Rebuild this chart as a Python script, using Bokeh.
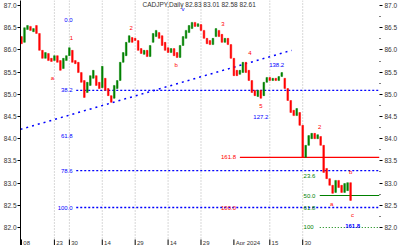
from bokeh.plotting import figure
from bokeh.models import LinearAxis, FixedTicker, Range1d, ColumnDataSource, NumeralTickFormatter
from bokeh.embed import file_html
from bokeh.resources import INLINE
from bokeh.core.properties import value

# ---------------- data ----------------
opens = [86.30, 86.17, 86.46, 86.53, 86.41, 86.55, 86.37, 85.99, 85.81, 85.92,
         85.81, 85.76, 85.87, 85.76, 85.58, 85.76, 85.87, 85.99, 85.76, 85.72,
         85.49, 85.31, 85.04, 85.20, 85.36, 85.42, 85.27, 85.15, 85.36, 85.13,
         84.97, 84.91, 85.13, 85.31, 85.72, 85.87, 86.17, 86.28, 86.26, 86.21,
         86.03, 85.90, 85.99, 85.85, 86.17, 86.30, 86.39, 86.32, 86.17, 86.05,
         85.94, 86.03, 85.94, 85.83, 86.10, 86.26, 86.39, 86.48, 86.62, 86.53,
         86.57, 86.44, 86.26, 86.21, 86.12, 86.30, 86.44, 86.35, 86.17, 86.26,
         86.12, 85.81, 85.54, 85.45, 85.49, 85.72, 85.54, 85.31, 85.09, 84.95,
         85.09, 84.97, 85.27, 85.38, 85.31, 85.36, 85.31, 85.40, 85.36, 85.13,
         84.86, 84.64, 84.52, 84.59, 84.30, 83.58, 83.85, 84.00, 84.12, 84.00,
         84.05, 83.85, 83.33, 83.10, 82.95, 82.79, 83.06, 82.95, 82.79, 82.83,
         83.01]
closes = [86.14, 86.50, 86.55, 86.44, 86.48, 86.37, 85.99, 85.81, 85.94, 85.76,
          85.74, 85.87, 85.72, 85.54, 85.81, 85.87, 86.05, 85.72, 85.69, 85.49,
          85.27, 84.93, 85.27, 85.42, 85.54, 85.20, 85.13, 85.63, 85.09, 84.97,
          84.82, 85.20, 85.31, 85.72, 85.94, 86.17, 86.32, 86.17, 86.21, 85.99,
          85.92, 85.99, 85.85, 86.10, 86.37, 86.44, 86.26, 86.10, 85.99, 85.94,
          86.03, 85.87, 85.83, 86.10, 86.30, 86.44, 86.55, 86.62, 86.53, 86.59,
          86.44, 86.26, 86.14, 86.12, 86.26, 86.48, 86.30, 86.17, 86.26, 86.12,
          85.81, 85.42, 85.42, 85.54, 85.72, 85.49, 85.31, 85.04, 84.97, 85.09,
          84.91, 85.27, 85.38, 85.31, 85.36, 85.31, 85.40, 85.49, 85.13, 84.86,
          84.59, 84.52, 84.68, 84.30, 83.58, 83.85, 84.07, 84.12, 84.00, 84.09,
          83.85, 83.24, 83.10, 82.95, 82.77, 83.06, 82.90, 82.79, 82.99, 83.01,
          82.61]

price_ticks = [82.0, 82.5, 83.0, 83.5, 84.0, 84.5, 85.0, 85.5, 86.0, 86.5, 87.0]
price_minor = [82.25, 82.75, 83.25, 83.75, 84.25, 84.75, 85.25, 85.75, 86.25, 86.75]

date_pos = [0, 11, 16, 27, 38, 49, 60, 71, 83, 94]
date_labels = ["08", "23", "30", "14", "29", "14", "29", "Apr 2024", "15", "30"]
grid_pos = [11, 16, 27, 38, 49, 60, 83, 94]

title_text = "CADJPY,Daily  82.83 83.01 82.58 82.61"

# Fibonacci retracement (blue)
fib_levels = [85.09, 83.28, 82.45]
fib_start = 18.3
fib_label_y = [86.68, 85.09, 84.07, 83.28, 82.45]
fib_label_text = ["0.0", "38.2", "61.8", "78.6", "100.0"]

# trend line (blue)
trend_x = [-0.33, 90.3]
trend_y = [84.21, 85.99]

# extension levels
red_level = 83.58
red_start = 73.0
red_label_y = [83.58, 82.45]
red_label_text = ["161.8", "100.0"]

green_solid = 82.72
green_dotted = 82.00
green_start = 99.7
green_label_y = [83.17, 82.72, 82.43, 82.00]
green_label_text = ["23.6", "50.0", "61.8", "100"]

blue_note_x = [85.3, 80.0, 54.0]
blue_note_y = [85.65, 84.48, 86.93]
blue_note_text = ["138.2", "127.2", "v"]
blue_bold_x = [110.7]
blue_bold_y = [82.04]
blue_bold_text = ["161.8"]

wave_x = [10.33, 16.67, 36.67, 51.67, 67.33, 76.33, 80.0, 99.67, 103.67, 110.0, 110.67]
wave_y = [85.36, 86.26, 86.50, 85.65, 86.59, 85.92, 84.73, 84.27, 82.54, 83.24, 82.29]
wave_text = ["a", "1", "2", "b", "3", "4", "5", "2", "a", "b", "c"]

# ---------------- figure ----------------
X0, X1 = -0.333, 119.667
Y0, Y1 = 81.594, 87.113

p = figure(width=400, height=245, x_range=Range1d(X0, X1), y_range=Range1d(Y0, Y1),
           output_backend="svg", toolbar_location=None,
           x_axis_location=None, y_axis_location="left",
           min_border_left=20, min_border_right=20, min_border_top=0, min_border_bottom=0)
p.outline_line_color = None
p.xgrid.visible = False
p.ygrid.visible = False
p.background_fill_color = "white"

lab_font = value("Liberation Sans")

ya = p.yaxis[0]
ya.ticker = FixedTicker(ticks=price_ticks, minor_ticks=price_minor)
ya.formatter = NumeralTickFormatter(format="0.0")
ya.axis_line_color = "black"
ya.major_tick_out = 3
ya.major_tick_in = 0
ya.minor_tick_out = 0
ya.minor_tick_in = 0
ya.major_label_standoff = 1
ya.major_label_text_font_size = "6.5px"
ya.major_label_text_font = "Liberation Sans"
ya.major_label_text_color = "#333333"

ra = LinearAxis(ticker=FixedTicker(ticks=price_ticks, minor_ticks=price_minor),
                formatter=NumeralTickFormatter(format="0.0"))
ra.axis_line_color = None
ra.major_tick_out = 3
ra.major_tick_in = 0
ra.minor_tick_out = 1
ra.minor_tick_in = 0
ra.major_label_standoff = 2
ra.major_label_text_font_size = "6.5px"
ra.major_label_text_font = "Liberation Sans"
ra.major_label_text_color = "#333333"
p.add_layout(ra, "right")

# vertical dotted grid
p.segment(x0=grid_pos, x1=grid_pos, y0=[Y1] * len(grid_pos), y1=[81.75] * len(grid_pos),
          line_color="#b0b0b0", line_width=1, line_dash="1 2")

# bottom date ticks and labels
p.segment(x0=date_pos, x1=date_pos, y0=[81.73] * len(date_pos), y1=[Y0] * len(date_pos),
          line_color="black", line_width=1)
p.text(x=[d + 0.6 for d in date_pos], y=[81.655] * len(date_pos), text=date_labels,
       text_font=lab_font, text_font_size="6px", text_color="#333333",
       text_align="left", text_baseline="middle")

# fib lines
n = len(fib_levels)
p.segment(x0=[fib_start] * n, x1=[X1] * n, y0=fib_levels, y1=fib_levels,
          line_color="blue", line_width=1.3, line_dash="2 2")
p.text(x=[fib_start - 1.2] * len(fib_label_y), y=fib_label_y, text=fib_label_text,
       text_font=lab_font, text_font_size="6px", text_color="blue",
       text_align="right", text_baseline="middle")

# trend line
p.line(trend_x, trend_y, line_color="blue", line_width=1.5, line_dash="2 4")

# red level
p.segment(x0=[red_start], x1=[X1], y0=[red_level], y1=[red_level], line_color="red", line_width=1.2)
p.text(x=[red_start - 1.3] * 2, y=red_label_y, text=red_label_text,
       text_font=lab_font, text_font_size="6px", text_color="red",
       text_align="right", text_baseline="middle")

# green levels
p.segment(x0=[green_start], x1=[X1], y0=[green_solid], y1=[green_solid], line_color="green", line_width=1.2)
p.segment(x0=[green_start], x1=[X1], y0=[green_dotted], y1=[green_dotted],
          line_color="green", line_width=1.2, line_dash="1 2")
p.text(x=[94.3] * len(green_label_y), y=green_label_y, text=green_label_text,
       text_font=lab_font, text_font_size="6px", text_color="green",
       text_align="left", text_baseline="middle")

# price bars
src = ColumnDataSource(dict(
    x=list(range(len(opens))),
    top=[max(o, c) for o, c in zip(opens, closes)],
    bottom=[min(o, c) for o, c in zip(opens, closes)],
    color=["#008000" if c >= o else "#ff0000" for o, c in zip(opens, closes)],
))
p.vbar(x="x", top="top", bottom="bottom", width=0.55, fill_color="color", line_color="color",
       line_width=0.5, source=src)

# notes
p.text(x=blue_note_x, y=blue_note_y, text=blue_note_text, text_font=lab_font,
       text_font_size="6px", text_color="blue", text_align="center", text_baseline="middle")
p.text(x=blue_bold_x, y=blue_bold_y, text=blue_bold_text, text_font=lab_font,
       text_font_size="6px", text_font_style="bold", text_color="blue",
       text_align="center", text_baseline="middle")
p.text(x=wave_x, y=wave_y, text=wave_text, text_font=lab_font,
       text_font_size="6px", text_color="red", text_align="center", text_baseline="middle")

# title
p.text(x=[59.67], y=[87.03], text=[title_text], text_font=lab_font,
       text_font_size="6.5px", text_color="#333333", text_align="center", text_baseline="middle")

open("out.html", "w").write(file_html(p, INLINE))
